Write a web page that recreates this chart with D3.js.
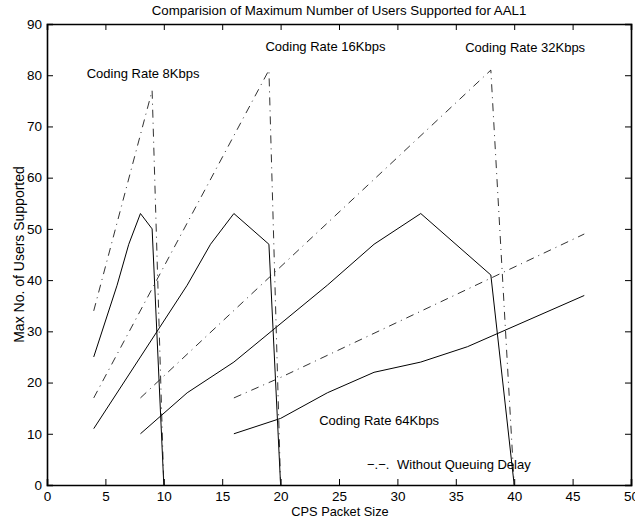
<!DOCTYPE html>
<html>
<head>
<meta charset="utf-8">
<script src="https://cdn.jsdelivr.net/npm/d3@7"></script>
<style>
  html, body { margin: 0; padding: 0; background: #fff; }
  svg { display: block; font-family: "Liberation Sans", Arial, Helvetica, sans-serif; }
</style>
</head>
<body>
<svg id="chart" width="635" height="520"></svg>
<script>
// CPS packet size vs. maximum users, AAL1, per coding rate
// Solid lines: with queuing delay; dash-dot lines: without queuing delay
const rate8Queued    = [[4, 25], [6, 39], [7, 47], [8, 53], [9, 50], [10, 0]];
const rate8NoQueue   = [[4, 34], [9, 77], [10, 0]];
const rate16Queued   = [[4, 11], [8, 25], [12, 39], [14, 47], [16, 53], [19, 47], [20, 0]];
const rate16NoQueue  = [[4, 17], [19, 81], [20, 0]];
const rate32Queued   = [[8, 10], [12, 18], [16, 24], [24, 39], [28, 47], [32, 53], [38, 41], [40, 0]];
const rate32NoQueue  = [[8, 17], [38, 81], [40, 0]];
const rate64Queued   = [[16, 10], [20, 13], [24, 18], [28, 22], [32, 24], [36, 27], [46, 37]];
const rate64NoQueue  = [[16, 17], [20, 21], [46, 49]];

const xTicks = [0, 5, 10, 15, 20, 25, 30, 35, 40, 45, 50];
const yTicks = [0, 10, 20, 30, 40, 50, 60, 70, 80, 90];

const titleText = "Comparision of Maximum Number of Users Supported for AAL1";
const xLabelText = "CPS Packet Size";
const yLabelText = "Max No. of Users Supported";

// annotations: [text, x data, y data]
const annotations = [
  ["Coding Rate 8Kbps", 3.4, 79.5],
  ["Coding Rate 16Kbps", 18.7, 84.8],
  ["Coding Rate 32Kbps", 35.8, 84.5],
  ["Coding Rate 64Kbps", 23.3, 11.8]
];
const legendText = "Without Queuing Delay";

const svg = d3.select("#chart");
const plotLeft = 47, plotRight = 631, plotTop = 24, plotBottom = 485;

const x = d3.scaleLinear().domain([0, 50]).range([plotLeft, plotRight]);
const y = d3.scaleLinear().domain([0, 90]).range([plotBottom, plotTop]);

const font = 13;
const tickLen = 6;

// axes (inner ticks on all four sides)
const axBottom = svg.append("g").attr("transform", `translate(0,${plotBottom})`)
  .call(d3.axisBottom(x).tickValues(xTicks).tickSize(-tickLen).tickPadding(5).tickFormat(d3.format("d")));
const axTop = svg.append("g").attr("transform", `translate(0,${plotTop})`)
  .call(d3.axisTop(x).tickValues(xTicks).tickSize(-tickLen).tickFormat(""));
const axLeft = svg.append("g").attr("transform", `translate(${plotLeft},0)`)
  .call(d3.axisLeft(y).tickValues(yTicks).tickSize(-tickLen).tickPadding(5).tickFormat(d3.format("d")));
const axRight = svg.append("g").attr("transform", `translate(${plotRight},0)`)
  .call(d3.axisRight(y).tickValues(yTicks).tickSize(-tickLen).tickFormat(""));

[axBottom, axTop, axLeft, axRight].forEach(g => {
  g.select(".domain").attr("stroke", "#000").attr("stroke-width", 1.6);
  g.selectAll(".tick line").attr("stroke", "#000").attr("stroke-width", 1);
  g.selectAll("text").attr("fill", "#000").attr("font-size", 13.5)
    .attr("font-family", '"Liberation Sans", Arial, sans-serif');
});
axBottom.selectAll("text").attr("dy", "0.85em");

// drop tick marks at the corners, where they sit on the frame
[axBottom, axTop].forEach(g => g.selectAll(".tick").filter(d => d === 0 || d === 50).select("line").remove());
[axLeft, axRight].forEach(g => g.selectAll(".tick").filter(d => d === 0 || d === 90).select("line").remove());

// data lines
const line = d3.line().x(d => x(d[0])).y(d => y(d[1]));
const plot = svg.append("g");

const solidSeries = [rate8Queued, rate16Queued, rate32Queued, rate64Queued];
const dashSeries = [rate8NoQueue, rate16NoQueue, rate32NoQueue, rate64NoQueue];

plot.selectAll("path.solid").data(solidSeries).join("path")
  .attr("class", "solid")
  .attr("d", line).attr("fill", "none")
  .attr("stroke", "#000").attr("stroke-width", 1);

plot.selectAll("path.dashdot").data(dashSeries).join("path")
  .attr("class", "dashdot")
  .attr("d", line).attr("fill", "none")
  .attr("stroke", "#1a1a1a").attr("stroke-width", 0.9)
  .attr("stroke-dasharray", "8,5,1,5");

// title and axis labels
svg.append("text").attr("x", (plotLeft + plotRight) / 2).attr("y", 15)
  .attr("text-anchor", "middle").attr("font-size", 13.3).attr("fill", "#000")
  .text(titleText);

svg.append("text").attr("x", (plotLeft + plotRight) / 2 + 1).attr("y", 516)
  .attr("text-anchor", "middle").attr("font-size", 12.8).attr("fill", "#000")
  .text(xLabelText);

svg.append("text")
  .attr("transform", `translate(23.5,${(plotTop + plotBottom) / 2}) rotate(-90)`)
  .attr("text-anchor", "middle").attr("font-size", 14).attr("fill", "#000")
  .text(yLabelText);

// annotations
svg.append("g").selectAll("text").data(annotations).join("text")
  .attr("x", d => x(d[1])).attr("y", d => y(d[2]))
  .attr("font-size", font).attr("fill", "#000")
  .text(d => d[0]);

// legend note
const legendG = svg.append("g").attr("transform", `translate(${x(27.4)},${y(3.1)})`);
legendG.append("text").attr("x", 0).attr("y", 0)
  .attr("font-size", font).attr("fill", "#000").text("\u2212.\u2212.");
legendG.append("text").attr("x", 30).attr("y", 0)
  .attr("font-size", font).attr("fill", "#000").text(legendText);
</script>
</body>
</html>
